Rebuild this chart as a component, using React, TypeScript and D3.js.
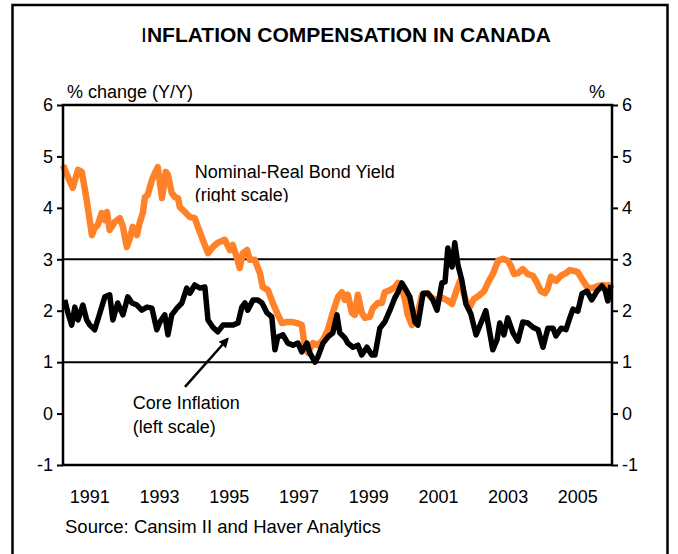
import React, { useEffect, useRef } from 'react';
import * as d3 from 'd3';

// Nominal-Real bond yield spread (right scale)
const bondDates = [
  1990.23, 1990.37, 1990.51, 1990.66, 1990.77, 1990.91, 1991.06, 1991.14, 1991.23, 1991.34,
  1991.43, 1991.49, 1991.57, 1991.72, 1991.86, 1991.95, 1992.06, 1992.15, 1992.23, 1992.35,
  1992.43, 1992.52, 1992.58, 1992.66, 1992.78, 1992.87, 1992.95, 1993.07, 1993.18, 1993.24,
  1993.35, 1993.44, 1993.53, 1993.58, 1993.73, 1993.87, 1994.01, 1994.1, 1994.24, 1994.39,
  1994.53, 1994.67, 1994.87, 1995.02, 1995.1, 1995.22, 1995.3, 1995.39, 1995.51, 1995.59,
  1995.73, 1995.88, 1995.96, 1996.11, 1996.25, 1996.37, 1996.51, 1996.65, 1996.8, 1996.94,
  1997.08, 1997.17, 1997.26, 1997.4, 1997.54, 1997.69, 1997.83, 1997.97, 1998.12, 1998.23,
  1998.32, 1998.4, 1998.52, 1998.6, 1998.69, 1998.8, 1998.89, 1999.03, 1999.12, 1999.26,
  1999.38, 1999.46, 1999.61, 1999.75, 1999.84, 1999.95, 2000.04, 2000.12, 2000.24, 2000.33,
  2000.41, 2000.53, 2000.67, 2000.81, 2000.96, 2001.1, 2001.24, 2001.39, 2001.53, 2001.62,
  2001.79, 2001.88, 2002.02, 2002.16, 2002.31, 2002.45, 2002.56, 2002.71, 2002.85, 2002.99,
  2003.08, 2003.17, 2003.28, 2003.42, 2003.57, 2003.71, 2003.83, 2003.94, 2004.06, 2004.14,
  2004.23, 2004.37, 2004.52, 2004.66, 2004.77, 2004.92, 2005.0, 2005.15, 2005.29, 2005.43,
  2005.58, 2005.72, 2005.86, 2005.95,
];
const bondValues = [
  4.83, 4.6, 4.39, 4.74, 4.7, 4.15, 3.47, 3.61, 3.67, 3.9,
  3.76, 3.92, 3.57, 3.73, 3.8, 3.63, 3.24, 3.41, 3.63, 3.47,
  3.71, 3.9, 4.21, 4.25, 4.54, 4.68, 4.79, 4.19, 4.7, 4.64,
  4.29, 4.21, 4.19, 4.02, 3.92, 3.82, 3.8, 3.63, 3.38, 3.12,
  3.24, 3.32, 3.38, 3.18, 3.28, 3.03, 2.83, 3.12, 3.18, 2.99,
  2.99, 2.73, 2.46, 2.4, 2.15, 1.96, 1.76, 1.78, 1.78, 1.76,
  1.72, 1.29, 1.18, 1.37, 1.33, 1.43, 1.63, 1.96, 2.27, 2.36,
  2.21, 2.31, 1.96, 1.92, 2.31, 1.96, 1.86, 1.88, 2.05, 2.15,
  2.15, 2.36, 2.4, 2.46, 2.54, 2.44, 2.21, 1.92, 1.72, 1.82,
  1.96, 2.31, 2.34, 2.25, 2.21, 2.25, 2.21, 2.13, 2.42, 2.58,
  2.19, 2.05, 2.23, 2.29, 2.38, 2.58, 2.71, 2.97, 3.01, 2.97,
  2.87, 2.71, 2.73, 2.81, 2.71, 2.68, 2.54, 2.38, 2.34, 2.44,
  2.66, 2.58, 2.68, 2.73, 2.79, 2.77, 2.75, 2.58, 2.44, 2.44,
  2.48, 2.5, 2.48, 2.52,
];

// Core inflation, % change Y/Y (left scale)
const coreDates = [
  1990.28, 1990.37, 1990.48, 1990.57, 1990.66, 1990.8, 1990.91, 1991.0, 1991.14, 1991.29,
  1991.43, 1991.57, 1991.66, 1991.8, 1991.95, 1992.09, 1992.21, 1992.35, 1992.49, 1992.64,
  1992.78, 1992.92, 1993.01, 1993.15, 1993.24, 1993.35, 1993.5, 1993.64, 1993.78, 1993.87,
  1994.01, 1994.16, 1994.3, 1994.39, 1994.53, 1994.67, 1994.82, 1994.96, 1995.1, 1995.25,
  1995.36, 1995.45, 1995.53, 1995.68, 1995.82, 1995.94, 1996.08, 1996.22, 1996.31, 1996.39,
  1996.54, 1996.68, 1996.83, 1996.97, 1997.08, 1997.23, 1997.31, 1997.46, 1997.54, 1997.69,
  1997.83, 1997.97, 1998.09, 1998.17, 1998.32, 1998.4, 1998.55, 1998.69, 1998.8, 1998.95,
  1999.09, 1999.18, 1999.32, 1999.46, 1999.61, 1999.75, 1999.84, 1999.95, 2000.04, 2000.18,
  2000.33, 2000.41, 2000.56, 2000.7, 2000.84, 2000.96, 2001.1, 2001.19, 2001.27, 2001.39,
  2001.47, 2001.56, 2001.67, 2001.79, 2001.93, 2002.08, 2002.22, 2002.36, 2002.45, 2002.56,
  2002.68, 2002.76, 2002.88, 2002.99, 2003.14, 2003.28, 2003.42, 2003.57, 2003.71, 2003.86,
  2004.0, 2004.14, 2004.29, 2004.37, 2004.52, 2004.66, 2004.77, 2004.86, 2005.0, 2005.12,
  2005.26, 2005.4, 2005.55, 2005.69, 2005.78, 2005.86, 2005.95,
];
const coreValues = [
  2.21, 1.96, 1.72, 2.07, 1.82, 2.11, 1.82, 1.72, 1.63, 1.96,
  2.27, 2.31, 1.82, 2.15, 1.92, 2.27, 2.15, 2.11, 2.01, 2.07,
  2.05, 1.63, 1.78, 1.92, 1.53, 1.92, 2.05, 2.15, 2.44, 2.34,
  2.5, 2.44, 2.46, 1.82, 1.68, 1.59, 1.72, 1.72, 1.72, 1.76,
  2.07, 2.15, 2.01, 2.21, 2.21, 2.15, 1.96, 1.88, 1.24, 1.49,
  1.53, 1.37, 1.33, 1.37, 1.2, 1.37, 1.18, 1.0, 1.1, 1.37,
  1.49, 1.57, 1.92, 1.57, 1.47, 1.37, 1.29, 1.33, 1.14, 1.29,
  1.14, 1.14, 1.66, 1.78, 2.01, 2.25, 2.36, 2.54, 2.44, 2.27,
  1.78, 1.72, 2.34, 2.34, 2.21, 2.01, 2.54, 2.56, 3.22, 2.85,
  3.32, 2.89, 2.6, 2.13, 1.94, 1.53, 1.76, 2.0, 1.66, 1.24,
  1.43, 1.76, 1.53, 1.86, 1.57, 1.41, 1.78, 1.76, 1.68, 1.63,
  1.29, 1.66, 1.66, 1.51, 1.66, 1.63, 1.86, 2.03, 1.99, 2.33,
  2.38, 2.21, 2.38, 2.48, 2.4, 2.19, 2.5,
];

const yTicks = [-1, 0, 1, 2, 3, 4, 5, 6];
const yearLabels = [1991, 1993, 1995, 1997, 1999, 2001, 2003, 2005];
const refLines = [1, 3];

const FONT = '"Liberation Sans", Arial, sans-serif';

const App = () => {
  const svgRef = useRef<SVGSVGElement>(null);

  useEffect(() => {
    const svg = d3.select(svgRef.current);
    svg.selectAll('*').remove();

    const W = 678;
    const H = 554;
    const margin = { top: 105, right: 66, bottom: 89, left: 63 };
    const width = W - margin.left - margin.right;
    const height = H - margin.top - margin.bottom;

    svg.attr('width', W).attr('height', H).style('font-family', FONT);

    // outer frame
    svg
      .append('rect')
      .attr('x', 12.5)
      .attr('y', 5)
      .attr('width', 655)
      .attr('height', 600)
      .attr('fill', 'white')
      .attr('stroke', 'black')
      .attr('stroke-width', 2.5);

    // title: the leading "I" is thinner in the original
    const title = svg
      .append('text')
      .attr('x', 346)
      .attr('y', 42)
      .attr('text-anchor', 'middle')
      .style('font-size', '21px')
      .style('font-weight', 'bold');
    title.append('tspan').style('font-weight', 'normal').text('I');
    title.append('tspan').text('NFLATION COMPENSATION IN CANADA');

    const con = svg
      .append('g')
      .attr('transform', `translate(${margin.left}, ${margin.top})`);

    const x = d3.scaleLinear().domain([1990.23, 2005.98]).range([0, width]);
    const y = d3.scaleLinear().domain([-1, 6]).range([height, 0]);

    // reference lines
    con
      .selectAll('.ref')
      .data(refLines)
      .enter()
      .append('line')
      .attr('x1', 0)
      .attr('x2', width)
      .attr('y1', d => y(d))
      .attr('y2', d => y(d))
      .attr('stroke', 'black')
      .attr('stroke-width', 2);

    const line = d3
      .line<[number, number]>()
      .x(d => x(d[0]))
      .y(d => y(d[1]));

    const bond = bondDates.map((d, i) => [d, bondValues[i]] as [number, number]);
    const core = coreDates.map((d, i) => [d, coreValues[i]] as [number, number]);

    con
      .append('path')
      .datum(bond)
      .attr('fill', 'none')
      .attr('stroke', '#FF8228')
      .attr('stroke-width', 6.5)
      .attr('stroke-linejoin', 'round')
      .attr('d', line);

    con
      .append('path')
      .datum(core)
      .attr('fill', 'none')
      .attr('stroke', 'black')
      .attr('stroke-width', 5.5)
      .attr('stroke-linejoin', 'round')
      .attr('d', line);

    // plot box and axes
    con
      .append('rect')
      .attr('x', 0)
      .attr('y', 0)
      .attr('width', width)
      .attr('height', height)
      .attr('fill', 'none')
      .attr('stroke', 'black')
      .attr('stroke-width', 2.5);

    const fmt = (d: d3.NumberValue) => String(d).replace('\u2212', '-');
    const left = con
      .append('g')
      .call(d3.axisLeft(y).tickValues(yTicks).tickFormat(fmt).tickSize(6).tickPadding(4));
    const right = con
      .append('g')
      .attr('transform', `translate(${width}, 0)`)
      .call(d3.axisRight(y).tickValues(yTicks).tickFormat(fmt).tickSize(6).tickPadding(4));
    [left, right].forEach(a => {
      a.select('.domain').remove();
      a.selectAll('line').attr('stroke-width', 2);
      a.selectAll('text').style('font-size', '18px').style('font-family', FONT).attr('fill', 'black');
    });

    con
      .selectAll('.year')
      .data(yearLabels)
      .enter()
      .append('text')
      .attr('x', d => x(d))
      .attr('y', height + 38)
      .attr('text-anchor', 'middle')
      .style('font-size', '18px')
      .text(d => d);

    svg
      .append('text')
      .attr('x', 67)
      .attr('y', 98)
      .style('font-size', '18px')
      .text('% change (Y/Y)');

    svg
      .append('text')
      .attr('x', 605)
      .attr('y', 98)
      .attr('text-anchor', 'end')
      .style('font-size', '18px')
      .text('%');

    // annotations
    svg
      .append('defs')
      .append('clipPath')
      .attr('id', 'clipRight')
      .append('rect')
      .attr('x', 0)
      .attr('y', 0)
      .attr('width', width)
      .attr('height', y(4.11));

    con
      .append('text')
      .attr('x', x(1994.01))
      .attr('y', y(4.58))
      .style('font-size', '18px')
      .text('Nominal-Real Bond Yield');

    con
      .append('text')
      .attr('x', x(1994.01))
      .attr('y', y(4.13))
      .attr('clip-path', 'url(#clipRight)')
      .style('font-size', '18px')
      .text('(right scale)');

    con
      .append('text')
      .attr('x', x(1992.23))
      .attr('y', y(0.09))
      .style('font-size', '18px')
      .text('Core Inflation');

    con
      .append('text')
      .attr('x', x(1992.23))
      .attr('y', y(-0.38))
      .style('font-size', '18px')
      .text('(left scale)');

    svg
      .select('defs')
      .append('marker')
      .attr('id', 'arrow')
      .attr('viewBox', '0 0 10 10')
      .attr('refX', 8)
      .attr('refY', 5)
      .attr('markerWidth', 4)
      .attr('markerHeight', 4)
      .attr('markerUnits', 'strokeWidth')
      .attr('orient', 'auto')
      .append('path')
      .attr('d', 'M0,0L10,5L0,10z')
      .attr('fill', 'black');

    con
      .append('line')
      .attr('x1', x(1993.73))
      .attr('y1', y(0.52))
      .attr('x2', x(1994.95))
      .attr('y2', y(1.45))
      .attr('stroke', 'black')
      .attr('stroke-width', 2.5)
      .attr('marker-end', 'url(#arrow)');

    svg
      .append('text')
      .attr('x', 65)
      .attr('y', 533)
      .style('font-size', '18.5px')
      .text('Source: Cansim II and Haver Analytics');
  }, []);

  return (
    <svg ref={svgRef} style={{ position: 'absolute', left: 0, top: 0 }} />
  );
};

export default App;
